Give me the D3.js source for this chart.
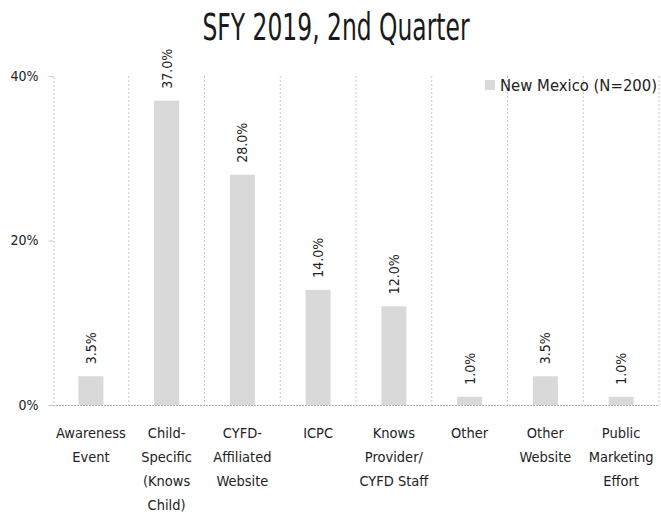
<!DOCTYPE html>
<html><head><meta charset="utf-8">
<script src="https://cdn.jsdelivr.net/npm/d3@7"></script>
<style>body{margin:0;background:#fff}svg{display:block}</style>
</head><body>
<svg id="c" width="661" height="514"></svg>
<script>
const categories = [["Awareness","Event"],["Child-","Specific","(Knows","Child)"],["CYFD-","Affiliated","Website"],["ICPC"],["Knows","Provider/","CYFD Staff"],["Other"],["Other","Website"],["Public","Marketing","Effort"]];
const values = [3.5,37.0,28.0,14.0,12.0,1.0,3.5,1.0];
const yTicks = [0,20,40];
const seriesName = "New Mexico (N=200)";
const title = "SFY 2019, 2nd Quarter";

const svg = d3.select("#c");
const lblFont = "'Liberation Sans Narrow','DejaVu Sans Condensed','Liberation Sans',sans-serif";
const x = d3.scaleBand().domain(d3.range(categories.length)).range([53,659]).paddingInner(0).paddingOuter(0);
const y = d3.scaleLinear().domain([0,40]).range([405,76]);

// title
svg.append("text").attr("x",336).attr("y",40).attr("text-anchor","middle")
  .attr("font-family","'DejaVu Sans Condensed','Liberation Sans Narrow',sans-serif").attr("font-size",37)
  .attr("textLength",267).attr("lengthAdjust","spacingAndGlyphs").attr("fill","#1a1a1a").text(title);

// vertical dashed separators
svg.append("g").selectAll("line").data(d3.range(1,categories.length+1)).join("line")
  .attr("x1",d=>x(0)+d*x.bandwidth()).attr("x2",d=>x(0)+d*x.bandwidth())
  .attr("y1",y(40)).attr("y2",y(0))
  .attr("stroke","#c8c8c8").attr("stroke-width",1).attr("stroke-dasharray","2,2");

// bars
const bw = x.bandwidth()*0.33;
svg.append("g").selectAll("rect").data(values).join("rect")
  .attr("x",(d,i)=>x(i)+x.bandwidth()/2-bw/2).attr("width",bw)
  .attr("y",d=>y(d)).attr("height",d=>y(0)-y(d)).attr("fill","#d9d9d9");

// baseline dashed
svg.append("line").attr("x1",x.range()[0]).attr("x2",x.range()[1]).attr("y1",y(0)+0.5).attr("y2",y(0)+0.5)
  .attr("stroke","#b0b0b0").attr("stroke-dasharray","2,1");

// y axis
const yAxis = d3.axisLeft(y).tickValues(yTicks).tickFormat(d=>d+"%").tickSize(5).tickPadding(10);
const ga = svg.append("g").attr("transform",`translate(${x.range()[0]+0.5},0)`).call(yAxis);
ga.select(".domain").attr("stroke","#c8c8c8").attr("stroke-dasharray","2,2");
ga.selectAll(".tick line").attr("stroke","#c8c8c8");
ga.selectAll(".tick text").attr("font-family",lblFont).attr("font-size",14).attr("fill","#222");

// value labels
svg.append("g").selectAll("text").data(values).join("text")
  .attr("transform",(d,i)=>`translate(${x(i)+x.bandwidth()/2+5},${y(d)-12}) rotate(-90)`)
  .attr("font-family",lblFont).attr("font-size",14).attr("fill","#222")
  .text(d=>d.toFixed(1)+"%");

// category labels
const cg = svg.append("g").selectAll("text").data(categories).join("text")
  .attr("x",(d,i)=>x(i)+x.bandwidth()/2).attr("y",438).attr("text-anchor","middle")
  .attr("font-family",lblFont).attr("font-size",14.5).attr("fill","#222");
cg.selectAll("tspan").data(d=>d).join("tspan")
  .attr("x",function(){return this.parentNode.getAttribute("x");})
  .attr("dy",(d,i)=>i===0?0:24).text(d=>d);

// legend
svg.append("rect").attr("x",485).attr("y",80).attr("width",10).attr("height",10).attr("fill","#d9d9d9");
svg.append("text").attr("x",500).attr("y",91).attr("font-family",lblFont).attr("font-size",15.5)
  .attr("textLength",157).attr("lengthAdjust","spacingAndGlyphs").attr("fill","#222").text(seriesName);
</script>
</body></html>
